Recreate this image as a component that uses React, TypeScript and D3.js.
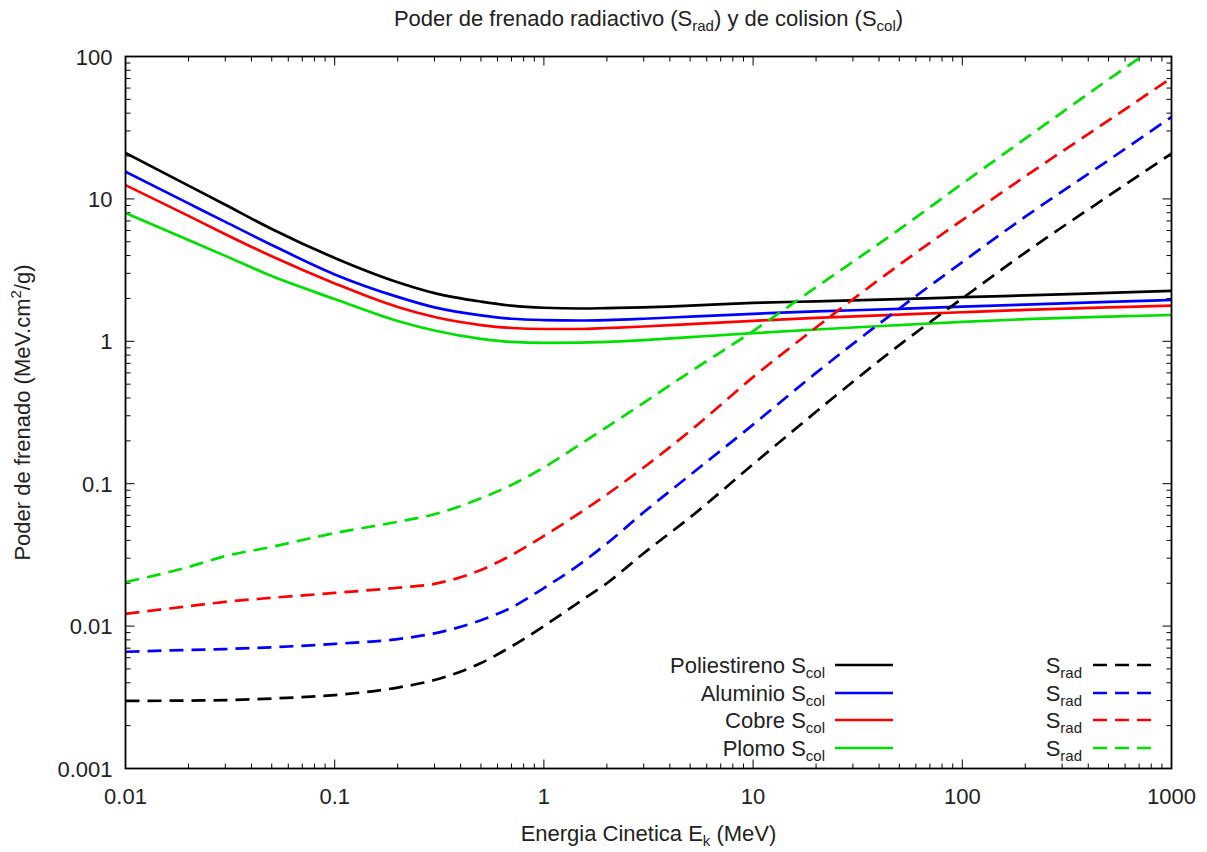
import React from "react";
import * as d3 from "d3";

const energy = [0.01, 0.02, 0.03, 0.05, 0.1, 0.2, 0.3, 0.5, 0.7, 1, 1.5, 2, 3, 5, 10, 20, 50, 100, 200, 500, 1000];

const polyCol = [21.0, 12.4, 9.1, 6.15, 3.85, 2.6, 2.18, 1.9, 1.78, 1.72, 1.70, 1.71, 1.73, 1.78, 1.86, 1.91, 1.98, 2.04, 2.1, 2.19, 2.26];
const alCol = [15.5, 9.3, 6.9, 4.75, 2.95, 2.05, 1.73, 1.52, 1.44, 1.41, 1.40, 1.41, 1.44, 1.49, 1.56, 1.62, 1.69, 1.75, 1.81, 1.89, 1.95];
const cuCol = [12.5, 7.6, 5.65, 3.95, 2.55, 1.74, 1.48, 1.3, 1.24, 1.22, 1.22, 1.24, 1.27, 1.32, 1.39, 1.46, 1.54, 1.6, 1.66, 1.73, 1.78];
const pbCol = [7.95, 5.15, 3.98, 2.87, 1.98, 1.39, 1.19, 1.04, 0.99, 0.975, 0.98, 0.99, 1.02, 1.07, 1.14, 1.21, 1.3, 1.37, 1.43, 1.49, 1.53];

const polyRad = [0.00298, 0.003, 0.00302, 0.0031, 0.00328, 0.0037, 0.00418, 0.0055, 0.0072, 0.01, 0.015, 0.02, 0.0325, 0.058, 0.137, 0.32, 0.94, 2.0, 4.2, 10.5, 20.8];
const alRad = [0.0066, 0.0068, 0.0069, 0.0071, 0.0075, 0.0081, 0.0089, 0.011, 0.0135, 0.0185, 0.0275, 0.038, 0.063, 0.115, 0.26, 0.6, 1.7, 3.6, 7.5, 18.7, 37.6];
const cuRad = [0.0122, 0.0138, 0.0148, 0.0158, 0.0171, 0.0186, 0.0198, 0.0248, 0.0315, 0.043, 0.063, 0.084, 0.13, 0.235, 0.56, 1.25, 3.45, 7.1, 14.4, 35.6, 70.7];
const pbRad = [0.0204, 0.026, 0.031, 0.036, 0.045, 0.054, 0.061, 0.079, 0.098, 0.13, 0.19, 0.25, 0.37, 0.61, 1.18, 2.4, 6.1, 12.8, 26.5, 69, 140];

const materials = ["Poliestireno", "Aluminio", "Cobre", "Plomo"];
const colors = ["#000000", "#0000ff", "#ff0000", "#00e000"];
const colSeries = [polyCol, alCol, cuCol, pbCol];
const radSeries = [polyRad, alRad, cuRad, pbRad];

const xTicks = [0.01, 0.1, 1, 10, 100, 1000];
const xTickLabels = ["0.01", "0.1", "1", "10", "100", "1000"];
const yTicks = [0.001, 0.01, 0.1, 1, 10, 100];
const yTickLabels = ["0.001", "0.01", "0.1", "1", "10", "100"];

const W = 1207;
const H = 852;
const L = 125.5, R = 1171.5, T = 56.5, B = 768.5;
const FONT = "'Liberation Sans', Arial, sans-serif";
const FS = 22;
const SUB = 15;

export default function App() {
  const x = d3.scaleLog().domain([0.01, 1000]).range([L, R]);
  const y = d3.scaleLog().domain([0.001, 100]).range([B, T]);
  const line = d3
    .line<[number, number]>()
    .x((d) => x(d[0]))
    .y((d) => y(d[1]))
    .curve(d3.curveMonotoneX);

  const minorX: number[] = [];
  for (let p = -2; p < 3; p++) for (let k = 2; k <= 9; k++) minorX.push(k * Math.pow(10, p));
  const minorY: number[] = [];
  for (let p = -3; p < 2; p++) for (let k = 2; k <= 9; k++) minorY.push(k * Math.pow(10, p));

  const legendRows = [665, 693, 720, 748];

  return (
    <svg width={W} height={H} style={{ position: "absolute", left: 0, top: 0, background: "#fff" }} fontFamily={FONT}>
      <defs>
        <clipPath id="plotclip">
          <rect x={L} y={T} width={R - L} height={B - T} />
        </clipPath>
      </defs>
      <rect x={0} y={0} width={W} height={H} fill="#fff" />

      {/* ticks */}
      <g stroke="#000" strokeWidth={1}>
        {xTicks.map((t) => (
          <g key={"xM" + t}>
            <line x1={x(t)} x2={x(t)} y1={B} y2={B - 9} />
            <line x1={x(t)} x2={x(t)} y1={T} y2={T + 9} />
          </g>
        ))}
        {minorX.map((t) => (
          <g key={"xm" + t}>
            <line x1={x(t)} x2={x(t)} y1={B} y2={B - 5} />
            <line x1={x(t)} x2={x(t)} y1={T} y2={T + 5} />
          </g>
        ))}
        {yTicks.map((t) => (
          <g key={"yM" + t}>
            <line x1={L} x2={L + 9} y1={y(t)} y2={y(t)} />
            <line x1={R} x2={R - 9} y1={y(t)} y2={y(t)} />
          </g>
        ))}
        {minorY.map((t) => (
          <g key={"ym" + t}>
            <line x1={L} x2={L + 5} y1={y(t)} y2={y(t)} />
            <line x1={R} x2={R - 5} y1={y(t)} y2={y(t)} />
          </g>
        ))}
      </g>

      {/* tick labels */}
      <g fontSize={FS} fill="#222">
        {xTicks.map((t, i) => (
          <text key={"xl" + t} x={x(t)} y={B + 35} textAnchor="middle">
            {xTickLabels[i]}
          </text>
        ))}
        {yTicks.map((t, i) => (
          <text key={"yl" + t} x={L - 13} y={y(t) + 8} textAnchor="end">
            {yTickLabels[i]}
          </text>
        ))}
      </g>

      {/* curves */}
      <g clipPath="url(#plotclip)" fill="none" strokeWidth={2.7}>
        {colSeries.map((s, i) => (
          <path key={"c" + i} d={line(energy.map((e, j) => [e, s[j]]))!} stroke={colors[i]} />
        ))}
        {radSeries.map((s, i) => (
          <path key={"r" + i} d={line(energy.map((e, j) => [e, s[j]]))!} stroke={colors[i]} strokeDasharray="14,8" />
        ))}
      </g>

      {/* border */}
      <rect x={L} y={T} width={R - L} height={B - T} fill="none" stroke="#000" strokeWidth={1.8} />

      {/* legend */}
      <g fontSize={FS} fill="#222">
        {materials.map((m, i) => (
          <g key={"lg" + i}>
            <text x={825} y={legendRows[i] + 8} textAnchor="end">
              {m} S<tspan fontSize={SUB} dy={5}>col</tspan>
            </text>
            <line x1={835} x2={893} y1={legendRows[i]} y2={legendRows[i]} stroke={colors[i]} strokeWidth={2.7} />
            <text x={1082} y={legendRows[i] + 8} textAnchor="end">
              S<tspan fontSize={SUB} dy={5}>rad</tspan>
            </text>
            <line x1={1093} x2={1151} y1={legendRows[i]} y2={legendRows[i]} stroke={colors[i]} strokeWidth={2.7} strokeDasharray="14,8" />
          </g>
        ))}
      </g>

      {/* title */}
      <text x={(L + R) / 2} y={26} textAnchor="middle" fontSize={FS} fill="#222">
        Poder de frenado radiactivo (S<tspan fontSize={SUB} dy={5}>rad</tspan>
        <tspan dy={-5}>) y de colision (S</tspan>
        <tspan fontSize={SUB} dy={5}>col</tspan>
        <tspan dy={-5}>)</tspan>
      </text>

      {/* axis labels */}
      <text x={(L + R) / 2} y={841} textAnchor="middle" fontSize={FS} fill="#222">
        Energia Cinetica E<tspan fontSize={SUB} dy={5}>k</tspan>
        <tspan dy={-5}> (MeV)</tspan>
      </text>
      <text transform={`translate(30, ${(T + B) / 2}) rotate(-90)`} textAnchor="middle" fontSize={FS} fill="#222">
        Poder de frenado (MeV.cm<tspan fontSize={SUB} dy={-9}>2</tspan>
        <tspan dy={9}>/g)</tspan>
      </text>
    </svg>
  );
}
